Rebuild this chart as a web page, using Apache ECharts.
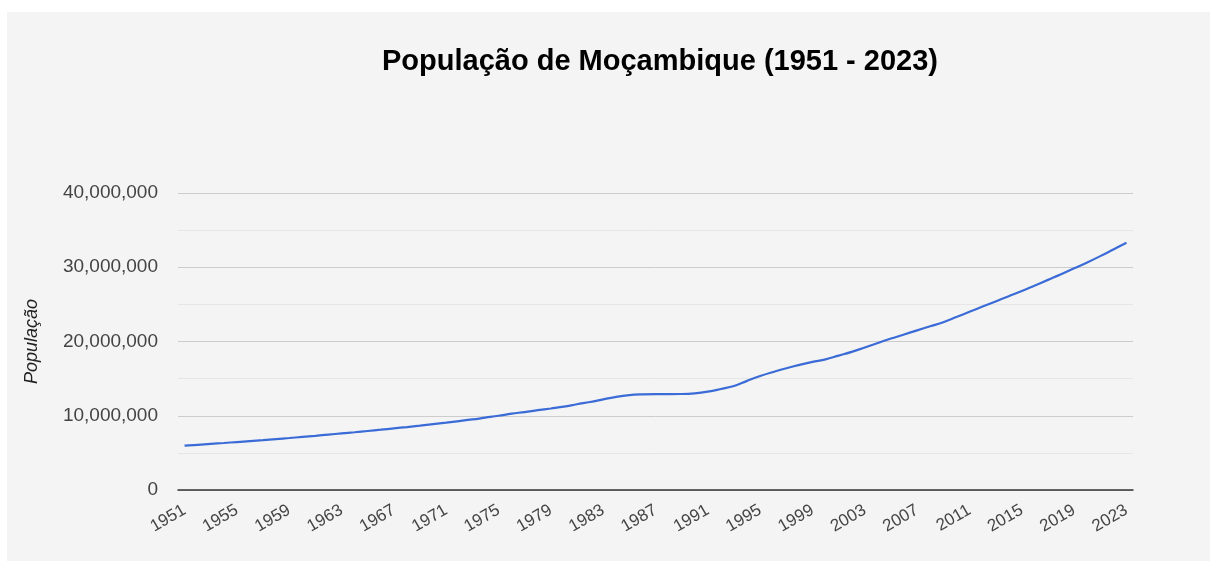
<!DOCTYPE html>
<html>
<head>
<meta charset="utf-8">
<script src="https://cdn.jsdelivr.net/npm/echarts@6/dist/echarts.min.js"></script>
<style>
    html, body { margin: 0; padding: 0; background: #ffffff; }
    #panel { position: absolute; left: 7px; top: 12px; width: 1203px; height: 549px; background: #f4f4f4; }
    #chart { position: absolute; left: 0; top: 0; width: 1218px; height: 565px; }
</style>
</head>
<body>
<div id="panel"></div>
<div id="chart"></div>
<script>
var years = [];
for (var y = 1951; y <= 2023; y++) years.push(String(y));

// população (milhões)
var populacao = [
    5.97, 6.09, 6.21, 6.33, 6.46, 6.59, 6.72, 6.86, 7.00, 7.15,   // 1951-1960
    7.30, 7.46, 7.62, 7.78, 7.95, 8.12, 8.30, 8.48, 8.67, 8.87,   // 1961-1970
    9.07, 9.28, 9.50, 9.75, 10.00, 10.28, 10.50, 10.75, 10.98, 11.22, // 1971-1980
    11.55, 11.85, 12.20, 12.55, 12.78, 12.88, 12.92, 12.92, 12.93, 13.02, // 1981-1990
    13.25, 13.60, 14.00, 14.70, 15.35, 15.90, 16.40, 16.85, 17.25, 17.60, // 1991-2000
    18.10, 18.60, 19.20, 19.80, 20.40, 20.95, 21.50, 22.05, 22.60, 23.30, // 2001-2010
    24.00, 24.70, 25.40, 26.10, 26.80, 27.55, 28.30, 29.05, 29.85, 30.65, // 2011-2020
    31.50, 32.40, 33.30                                               // 2021-2023
].map(function (v) { return Math.round(v * 1e6); });

var yTicks = [0, 10000000, 20000000, 30000000, 40000000];

option = {
    backgroundColor: 'transparent',
    animation: false,
    title: {
        text: 'População de Moçambique (1951 - 2023)',
        left: 655,
        textAlign: 'center',
        top: 42,
        textStyle: {
            fontFamily: 'Liberation Sans, Arial',
            fontSize: 29,
            fontWeight: 'bold',
            color: '#000'
        }
    },
    grid: {
        left: 178,
        right: 85,
        top: 193,
        bottom: 75
    },
    xAxis: {
        type: 'category',
        boundaryGap: true,
        data: years,
        axisLine: { lineStyle: { color: '#333', width: 1.5 } },
        axisTick: { show: false },
        axisLabel: {
            interval: 3,
            rotate: 30,
            margin: 19,
            fontFamily: 'Liberation Sans, Arial',
            fontSize: 17,
            color: '#444'
        }
    },
    yAxis: {
        type: 'value',
        min: yTicks[0],
        max: yTicks[yTicks.length - 1],
        interval: 10000000,
        name: 'População',
        nameLocation: 'middle',
        nameGap: 137,
        nameTextStyle: {
            fontFamily: 'Liberation Sans, Arial',
            fontSize: 18,
            fontStyle: 'italic',
            color: '#222'
        },
        axisLine: { show: false },
        axisTick: { show: false },
        axisLabel: {
            margin: 20,
            fontFamily: 'Liberation Sans, Arial',
            fontSize: 19,
            color: '#444',
            formatter: function (v) { return v.toLocaleString('en-US'); }
        },
        splitLine: { lineStyle: { color: '#cccccc', width: 1 } },
        minorTick: { show: false, splitNumber: 2 },
        minorSplitLine: { show: true, lineStyle: { color: '#e6e6e6', width: 1 } }
    },
    series: [{
        name: 'População',
        type: 'line',
        data: populacao,
        smooth: 0.4,
        showSymbol: false,
        color: '#3a6bd6',
        lineStyle: { width: 2.2 }
    }]
};

echarts.init(document.getElementById('chart')).setOption(option);
</script>
</body>
</html>
